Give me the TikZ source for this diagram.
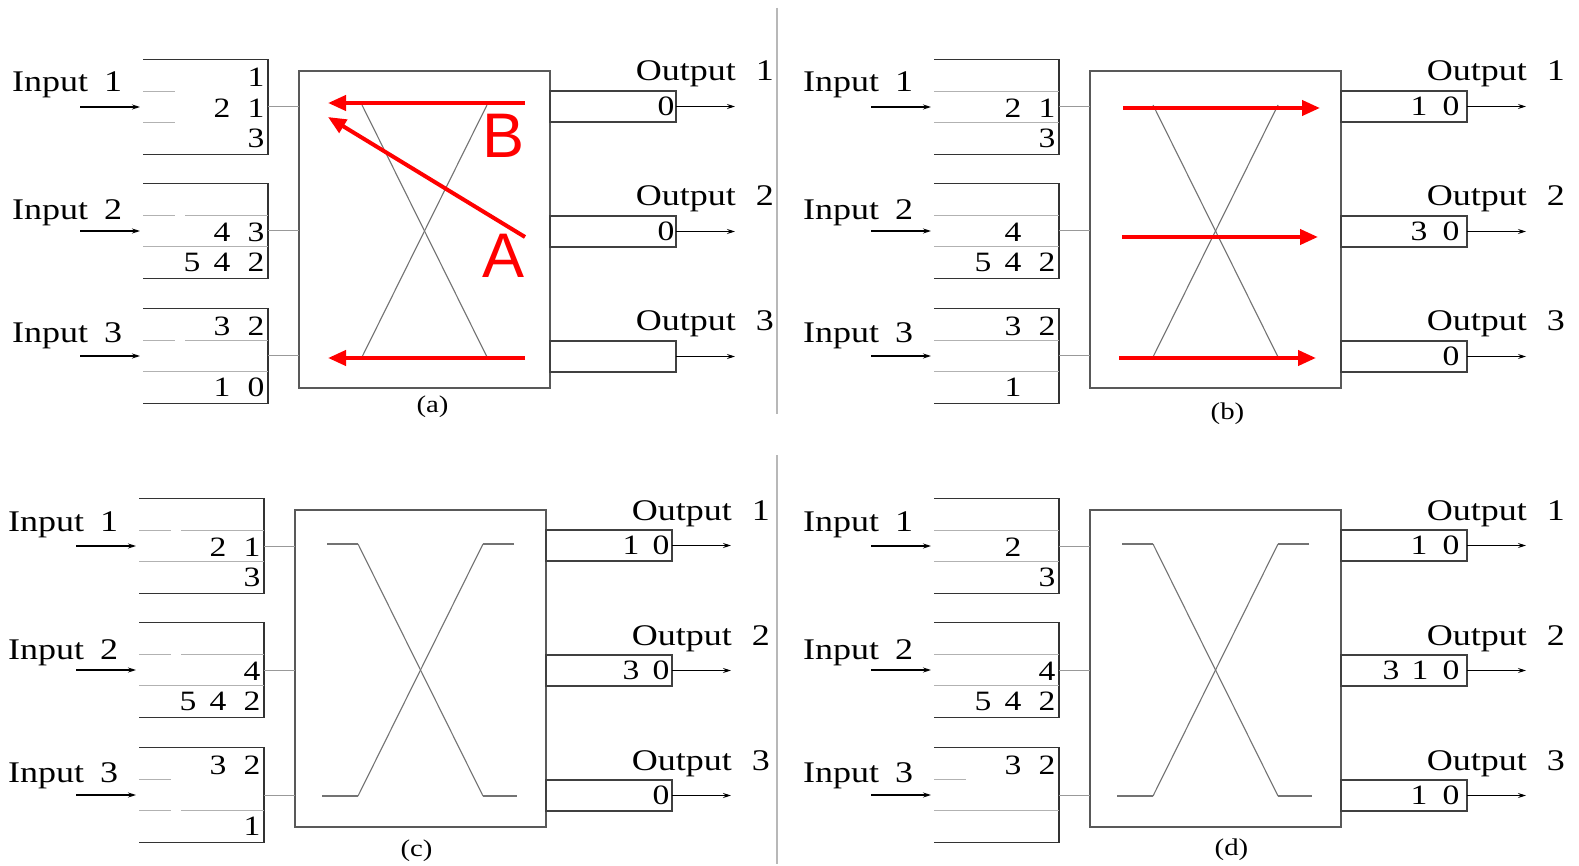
\documentclass[tikz,border=0pt]{standalone}
\usepackage{fontspec}
\setmainfont{Liberation Serif}[FakeStretch=1.2]
\newfontfamily\redsans{Liberation Sans}
\usetikzlibrary{arrows.meta,calc}

\newcommand\rowA{18}
\newcommand\rowB{49}
\newcommand\rowC{79}
\newcommand\colA{-12}
\newcommand\colB{-46}
\newcommand\colC{-76}

\tikzset{
  qbox/.style={minimum width=125pt, minimum height=95pt, inner sep=0pt, outer sep=0pt},
  swbox/.style={draw=black!65, line width=2pt, minimum width=251pt, minimum height=317pt, inner sep=0pt, outer sep=0pt},
  obox/.style={draw=black!75, line width=1.8pt, minimum width=126pt, minimum height=31pt, inner sep=0pt, outer sep=0pt},
  qedge/.style={draw=black!80, line width=1.8pt},
  qline/.style={draw=black!30, line width=1.3pt},
  xbar/.style={draw=black!55, line width=1.1pt},
  link/.style={draw=black!40, line width=1pt},
  flow/.style={draw=black, line width=1.1pt, -{Stealth[length=8pt,width=5pt]}},
  redarrow/.style={draw=red, line width=4pt, -{Triangle[length=18pt,width=15pt]}},
  lbl/.style={font=\fontsize{30}{32}\selectfont, inner sep=0pt},
  digit/.style={font=\fontsize{28}{30}\selectfont, inner sep=0pt},
  captxt/.style={font=\fontsize{24}{26}\selectfont, inner sep=0pt},
  redlbl/.style={text=red, font=\redsans\fontsize{63}{63}\selectfont, inner sep=0pt},
  sepline/.style={draw=black!28, line width=1.5pt},
}

% queue digit: node, row offset, column offset, text
\newcommand\qd[4]{\node[digit] at ($(#1.north east)+(#3,#2)$) {#4};}
% output digit: node, x offset from east, text
\newcommand\od[3]{\node[digit] at ($(#1.east)+(#2,0)$) {#3};}
% queue inner lines: node, y offset
\newcommand\qshort[2]{\draw[qline] ($(#1.north west)+(0,#2)$) -- ++(32,0);}
\newcommand\qlong[2]{\draw[qline] ($(#1.north west)+(42,#2)$) -- ($(#1.north east)+(0,#2)$);}
\newcommand\qfull[2]{\draw[qline] ($(#1.north west)+(0,#2)$) -- ($(#1.north east)+(0,#2)$);}
% crossbar stubs
\newcommand\xstubs[1]{%
  \draw[xbar] ($(#1-sw.north west)+(32,34)$) -- ++(31,0);
  \draw[xbar] ($(#1-sw.south east)+(-63,-31)$) -- ++(34,0);
  \draw[xbar] ($(#1-sw.north east)+(-32,34)$) -- ++(-31,0);
  \draw[xbar] ($(#1-sw.south west)+(63,-31)$) -- ++(-36,0);
}

\newcommand\mypanel[3]{%
  \begin{scope}[shift={(#2,#3)}]
    \node[qbox] (#1-q1) at (205.5,107) {};
    \node[qbox] (#1-q2) at (205.5,231) {};
    \node[qbox] (#1-q3) at (205.5,356) {};
    \node[swbox] (#1-sw) at (424.5,229.5) {};
    \node[obox] (#1-o1) at (613,106.5) {};
    \node[obox] (#1-o2) at (613,231.5) {};
    \node[obox] (#1-o3) at (613,356.5) {};
  \end{scope}
  \foreach \k/\lo in {1/32.5,2/36.5,3/34.5}{
    \draw[qedge] (#1-q\k.north west) -- (#1-q\k.north east) -- (#1-q\k.south east) -- (#1-q\k.south west);
    \draw[link] (#1-q\k) -- (#1-q\k -| #1-sw.west);
    \coordinate (#1-in\k) at ($(#1-q\k.west)+(-63,0)$);
    \draw[flow, shorten >=3pt] (#1-in\k) -- (#1-q\k);
    \coordinate (#1-out\k) at ($(#1-o\k.east)+(59,0)$);
    \draw[flow] (#1-o\k) -- (#1-out\k);
    \node[lbl, anchor=base west] (#1-il\k) at ($(#1-q\k.north west)+(-131,\lo)$) {Input\hspace{16pt}\k};
    \node[lbl, anchor=base east] (#1-ol\k) at ($(#1-o\k.north east)+(98,-10)$) {Output\hspace{20pt}\k};
  }
  \draw[xbar] ($(#1-sw.north west)+(63,34)$) -- ($(#1-sw.south east)+(-63,-31)$);
  \draw[xbar] ($(#1-sw.north east)+(-63,34)$) -- ($(#1-sw.south west)+(63,-31)$);
}

\begin{document}
\begin{tikzpicture}[x=1pt,y=-1pt]
\useasboundingbox[fill=white] (0,0) rectangle (1579,866);

% separators
\coordinate (s1t) at (777,8);   \coordinate (s1b) at (777,414);
\coordinate (s2t) at (777,455); \coordinate (s2b) at (777,864);
\draw[sepline] (s1t) -- (s1b);
\draw[sepline] (s2t) -- (s2b);

% ---------------- panel (a)
\mypanel{a}{0}{0}
\qshort{a-q1}{32}\qshort{a-q1}{63}
\qshort{a-q2}{32}\qlong{a-q2}{32}\qfull{a-q2}{63}
\qshort{a-q3}{32}\qlong{a-q3}{32}\qfull{a-q3}{63}
\qd{a-q1}{\rowA}{\colA}{1}
\qd{a-q1}{\rowB}{\colB}{2}\qd{a-q1}{\rowB}{\colA}{1}
\qd{a-q1}{\rowC}{\colA}{3}
\qd{a-q2}{\rowB}{\colB}{4}\qd{a-q2}{\rowB}{\colA}{3}
\qd{a-q2}{\rowC}{\colC}{5}\qd{a-q2}{\rowC}{\colB}{4}\qd{a-q2}{\rowC}{\colA}{2}
\qd{a-q3}{\rowA}{\colB}{3}\qd{a-q3}{\rowA}{\colA}{2}
\qd{a-q3}{\rowC}{\colB}{1}\qd{a-q3}{\rowC}{\colA}{0}
\od{a-o1}{-10}{0}
\od{a-o2}{-10}{0}
\node[captxt] (a-cap) at ($(a-sw.south)+(8,19)$) {(a)};
\coordinate (a-r1s) at (525,103); \coordinate (a-r1e) at (328,103);
\coordinate (a-r2s) at (525,237); \coordinate (a-r2e) at (328,117);
\coordinate (a-r3s) at (525,358); \coordinate (a-r3e) at (328,358);
\draw[redarrow] (a-r1s) -- (a-r1e);
\draw[redarrow] (a-r2s) -- (a-r2e);
\draw[redarrow] (a-r3s) -- (a-r3e);
\node[redlbl] (a-B) at (504,136) {B};
\node[redlbl] (a-A) at (504,256) {A};

% ---------------- panel (b)
\mypanel{b}{791}{0}
\qfull{b-q1}{32}\qfull{b-q1}{63}
\qfull{b-q2}{32}\qfull{b-q2}{63}
\qfull{b-q3}{32}\qfull{b-q3}{63}
\qd{b-q1}{\rowB}{\colB}{2}\qd{b-q1}{\rowB}{\colA}{1}
\qd{b-q1}{\rowC}{\colA}{3}
\qd{b-q2}{\rowB}{\colB}{4}
\qd{b-q2}{\rowC}{\colC}{5}\qd{b-q2}{\rowC}{\colB}{4}\qd{b-q2}{\rowC}{\colA}{2}
\qd{b-q3}{\rowA}{\colB}{3}\qd{b-q3}{\rowA}{\colA}{2}
\qd{b-q3}{\rowC}{\colB}{1}
\od{b-o1}{-48}{1}\od{b-o1}{-16}{0}
\od{b-o2}{-48}{3}\od{b-o2}{-16}{0}
\od{b-o3}{-16}{0}
\node[captxt] (b-cap) at ($(b-sw.south)+(12,26)$) {(b)};
\coordinate (b-r1s) at (1123,108); \coordinate (b-r1e) at (1320,108);
\coordinate (b-r2s) at (1122,237); \coordinate (b-r2e) at (1318,237);
\coordinate (b-r3s) at (1119,358); \coordinate (b-r3e) at (1316,358);
\draw[redarrow] (b-r1s) -- (b-r1e);
\draw[redarrow] (b-r2s) -- (b-r2e);
\draw[redarrow] (b-r3s) -- (b-r3e);

% ---------------- panel (c)
\mypanel{c}{-4}{439}
\xstubs{c}
\qshort{c-q1}{32}\qlong{c-q1}{32}\qfull{c-q1}{63}
\qshort{c-q2}{32}\qlong{c-q2}{32}\qfull{c-q2}{63}
\qshort{c-q3}{32}\qshort{c-q3}{63}\qlong{c-q3}{63}
\qd{c-q1}{\rowB}{\colB}{2}\qd{c-q1}{\rowB}{\colA}{1}
\qd{c-q1}{\rowC}{\colA}{3}
\qd{c-q2}{\rowB}{\colA}{4}
\qd{c-q2}{\rowC}{\colC}{5}\qd{c-q2}{\rowC}{\colB}{4}\qd{c-q2}{\rowC}{\colA}{2}
\qd{c-q3}{\rowA}{\colB}{3}\qd{c-q3}{\rowA}{\colA}{2}
\qd{c-q3}{\rowC}{\colA}{1}
\od{c-o1}{-41}{1}\od{c-o1}{-11}{0}
\od{c-o2}{-41}{3}\od{c-o2}{-11}{0}
\od{c-o3}{-11}{0}
\node[captxt] (c-cap) at ($(c-sw.south)+(-4,24)$) {(c)};

% ---------------- panel (d)
\mypanel{d}{791}{439}
\xstubs{d}
\qfull{d-q1}{32}\qfull{d-q1}{63}
\qfull{d-q2}{32}\qfull{d-q2}{63}
\qshort{d-q3}{32}\qfull{d-q3}{63}
\qd{d-q1}{\rowB}{\colB}{2}
\qd{d-q1}{\rowC}{\colA}{3}
\qd{d-q2}{\rowB}{\colA}{4}
\qd{d-q2}{\rowC}{\colC}{5}\qd{d-q2}{\rowC}{\colB}{4}\qd{d-q2}{\rowC}{\colA}{2}
\qd{d-q3}{\rowA}{\colB}{3}\qd{d-q3}{\rowA}{\colA}{2}
\od{d-o1}{-48}{1}\od{d-o1}{-16}{0}
\od{d-o2}{-76}{3}\od{d-o2}{-47}{1}\od{d-o2}{-16}{0}
\od{d-o3}{-48}{1}\od{d-o3}{-16}{0}
\node[captxt] (d-cap) at ($(d-sw.south)+(16,23)$) {(d)};
\end{tikzpicture}
\end{document}
